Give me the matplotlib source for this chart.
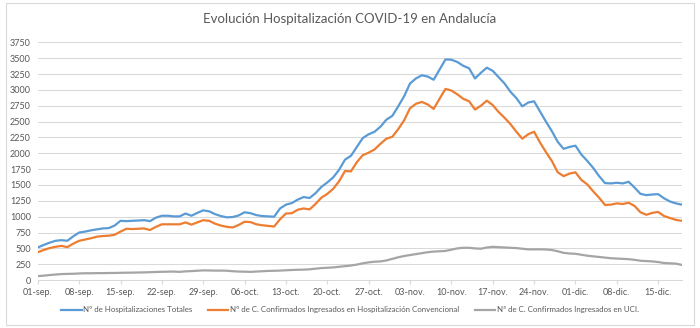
import datetime as dt

import matplotlib
matplotlib.use("Agg")
import matplotlib.pyplot as plt
from matplotlib.patches import Rectangle

plt.rcParams["font.family"] = ["Lato", "DejaVu Sans"]

# ---------------------------------------------------------------------------
# Data (one value per day 01-sep .. 19-dic)
# ---------------------------------------------------------------------------
start_date = dt.date(2020, 9, 1)

hosp_totales = [
    515, 555, 590, 620, 630, 620, 690, 750, 765, 785,
    800, 815, 820, 860, 935, 930, 935, 940, 945, 930,
    985, 1015, 1015, 1005, 1005, 1050, 1015, 1060, 1100, 1085,
    1040, 1010, 990, 995, 1020, 1070, 1055, 1025, 1010, 1005,
    1000, 1130, 1190, 1215, 1270, 1310, 1295, 1370, 1470, 1540,
    1620, 1740, 1900, 1960, 2100, 2240, 2300, 2340, 2420, 2530,
    2590, 2740, 2900, 3100, 3180, 3230, 3210, 3160, 3320, 3480,
    3475, 3440, 3380, 3340, 3180, 3270, 3350, 3300, 3200, 3100,
    2970, 2870, 2740, 2800, 2820, 2660, 2500, 2350, 2180, 2070,
    2100, 2120, 1980, 1880, 1770, 1640, 1530, 1525, 1535, 1525,
    1550, 1460, 1360, 1340, 1350, 1355, 1290, 1240, 1210, 1190,
]

hosp_convencional = [
    440, 475, 505, 525, 540, 520, 575, 620, 640, 660,
    685, 695, 700, 715, 765, 810, 805, 810, 815, 790,
    840, 880, 880, 880, 880, 910, 875, 910, 945, 935,
    890, 860, 840, 830, 870, 920, 915, 880, 865, 855,
    845, 960, 1050, 1055, 1110, 1130, 1115, 1200, 1300, 1360,
    1440, 1560, 1720, 1715, 1860, 1970, 2010, 2060, 2150, 2230,
    2260, 2380, 2520, 2710, 2780, 2810, 2770, 2700, 2860, 3015,
    2990, 2930, 2860, 2820, 2690, 2750, 2830, 2760, 2650, 2560,
    2460, 2340, 2230, 2300, 2340, 2170, 2020, 1880, 1700, 1640,
    1680, 1700, 1580, 1510, 1400, 1300, 1185, 1190, 1210, 1200,
    1220, 1170, 1070, 1030, 1060, 1075, 1010, 980, 950, 935,
]

hosp_uci = [
    63, 70, 80, 88, 95, 98, 100, 105, 108, 108,
    110, 110, 112, 113, 115, 117, 118, 120, 122, 125,
    128, 131, 133, 135, 130, 138, 142, 148, 153, 152,
    150, 150, 148, 140, 135, 133, 130, 135, 140, 145,
    147, 150, 155, 160, 163, 165, 170, 180, 190, 195,
    200, 210, 220, 230, 245, 265, 280, 290, 295, 310,
    335, 360, 380, 395, 410, 425, 440, 450, 455, 460,
    480, 500, 510, 510, 500, 495, 515, 525, 520, 515,
    510, 505, 495, 485, 485, 485, 483, 475, 455, 430,
    420, 415, 400, 385, 375, 365, 355, 345, 340, 335,
    330, 320, 305, 300, 295, 285, 270, 265, 260, 240,
]

series_labels = [
    "Nº de Hospitalizaciones Totales",
    "Nº de C. Confirmados Ingresados en Hospitalización Convencional",
    "Nª de C. Confirmados Ingresados en UCI.",
]
series_colors = ["#5B9BD5", "#ED7D31", "#A5A5A5"]

MONTHS_ES = {9: "sep", 10: "oct", 11: "nov", 12: "dic"}

dates = [start_date + dt.timedelta(days=i) for i in range(len(hosp_totales))]

# ---------------------------------------------------------------------------
# Plot
# ---------------------------------------------------------------------------
fig = plt.figure(figsize=(7.0, 3.28), dpi=100)
ax = fig.add_axes([0.054, 0.146, 0.920, 0.725])

text_color = "#595959"
grid_color = "#D9D9D9"

for values, label, color in zip(
        [hosp_totales, hosp_convencional, hosp_uci], series_labels, series_colors):
    ax.plot(dates, values, color=color, linewidth=1.6, label=label,
            solid_joinstyle="round")

ax.set_xlim(dates[0], dates[-1])
ax.set_ylim(0, 3750)
ax.set_yticks(range(0, 3751, 250))

ticks = dates[::7]
ax.set_xticks(ticks)
ax.set_xticklabels([f"{d.day:02d}-{MONTHS_ES[d.month]}." for d in ticks])

ax.grid(axis="y", color=grid_color, linewidth=0.75)
ax.set_axisbelow(True)
for side in ("top", "right", "left"):
    ax.spines[side].set_visible(False)
ax.spines["bottom"].set_color(grid_color)
ax.spines["bottom"].set_linewidth(0.75)

ax.tick_params(axis="y", length=0, labelsize=6.5, labelcolor=text_color, pad=5)
ax.tick_params(axis="x", length=3, color=grid_color, labelsize=6.5,
               labelcolor=text_color, pad=3)

fig.suptitle("Evolución Hospitalización COVID-19 en Andalucía",
             x=0.5, y=0.96, fontsize=9.5, color=text_color)

fig.legend(loc="center", bbox_to_anchor=(0.5, 0.055), ncol=3, frameon=False,
           fontsize=5.7, labelcolor=text_color, handlelength=2.6,
           handletextpad=0.25, columnspacing=1.9)

# light chart frame, as in the spreadsheet export
fig.patches.append(Rectangle((0.008, 0.008), 0.984, 0.984,
                             transform=fig.transFigure, fill=False,
                             edgecolor="#D9D9D9", linewidth=0.8))

fig.savefig("out.png", dpi=100, facecolor="white")
